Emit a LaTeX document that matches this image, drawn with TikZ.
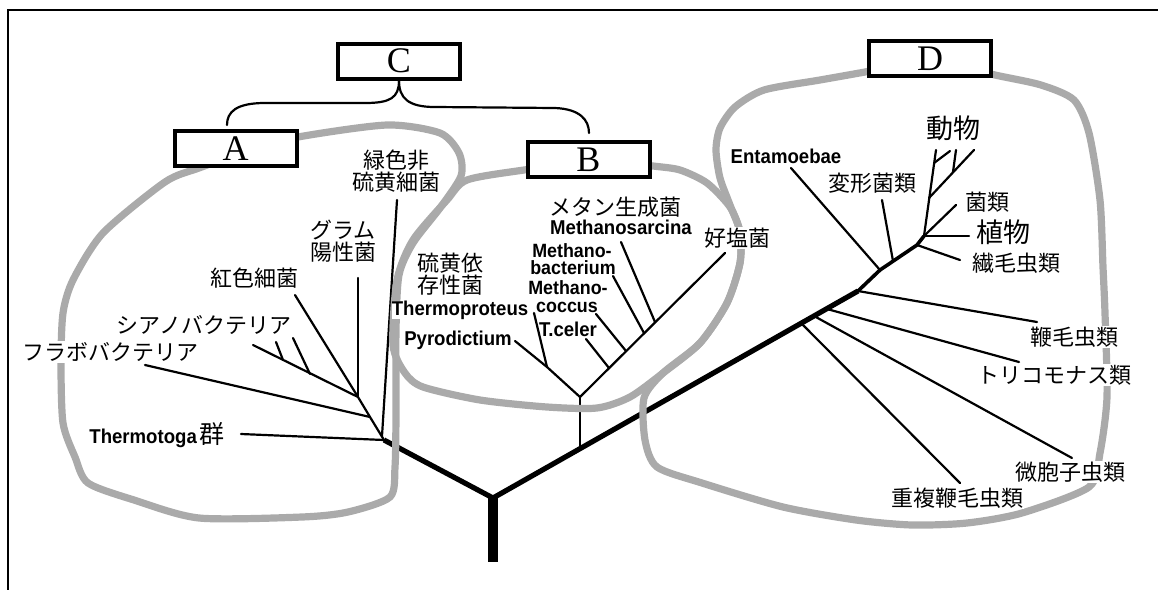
\documentclass[tikz,border=0pt]{standalone}
\usepackage{fontspec}
\setmainfont{Liberation Serif}
\newfontfamily\jp{Noto Sans CJK JP}
\newfontfamily\lat[FakeStretch=0.93]{Liberation Sans}
\definecolor{rg}{RGB}{170,170,170}
\begin{document}
\begin{tikzpicture}[x=0.5pt,y=-0.5pt,
  br/.style={line width=1.1pt, line cap=round},
  outline/.style={draw=rg, line width=3.6pt, line join=round},
  jl/.style={font=\jp\fontsize{11}{11}\selectfont, inner sep=0.5pt, align=center},
  jb/.style={font=\jp\fontsize{13.5}{13.5}\selectfont, inner sep=0.5pt},
  ll/.style={font=\lat\bfseries\fontsize{10}{10}\selectfont, inner sep=0pt},
  ls/.style={font=\lat\bfseries\fontsize{9.6}{9.6}\selectfont, inner sep=0pt},
  ko/.style={fill=white},
  lbox/.style={draw, line width=2pt, fill=white, minimum width=61pt, minimum height=17.5pt, inner sep=0pt, font=\fontsize{18}{18}\selectfont}
]
\useasboundingbox (0,0) rectangle (1158,590);
% frame
\draw[line width=1.2pt] (1158,10) -- (8,10) -- (8,590);

% ---------- coordinates ----------
\coordinate (root) at (493,498);
\coordinate (trunkbot) at (493,562);
\coordinate (aBase) at (384,440);
\coordinate (mR1) at (858,291);
\coordinate (mR2) at (880,270);
\coordinate (mR3) at (917,245);
\coordinate (mR4) at (924,236);
% A
\coordinate (aTop) at (295,295);
\coordinate (aFl) at (370,417);
\coordinate (aGr) at (358,397);
\coordinate (eTh) at (241,434);
\coordinate (sGreen) at (382,436);
\coordinate (eGreen) at (397,200);
\coordinate (eFl) at (145,365);
\coordinate (eGram) at (358,278);
\coordinate (eCy) at (253,345);
\coordinate (cy1a) at (283,360);
\coordinate (cy1b) at (276,342);
\coordinate (cy2a) at (310,374);
\coordinate (cy2b) at (293,338);
% B
\coordinate (bRoot) at (580,449);
\coordinate (bJ) at (580,397);
\coordinate (bL1) at (547,367);
\coordinate (ePyro) at (515,341);
\coordinate (eThp) at (534,313);
\coordinate (eHalo) at (725,253);
\coordinate (bTc) at (609,368);
\coordinate (eTc) at (586,339);
\coordinate (bMc) at (626,351);
\coordinate (eMc) at (596,314);
\coordinate (bMb) at (644,333);
\coordinate (eMb) at (613,276);
\coordinate (bMs) at (655,322);
\coordinate (eMs) at (621,242);
% D
\coordinate (eEnt) at (791,168);
\coordinate (bHen) at (893,261);
\coordinate (eHen) at (882,200);
\coordinate (eSen) at (960,260);
\coordinate (ePl) at (969,236);
\coordinate (eKin) at (956,205);
\coordinate (eAn) at (936,150);
\coordinate (an1a) at (934,163);
\coordinate (an1b) at (950,151);
\coordinate (an2a) at (929,198);
\coordinate (an2b) at (974,150);
\coordinate (an3a) at (953,172);
\coordinate (an3b) at (956,150);
\coordinate (eBen) at (1037,322);
\coordinate (bTri) at (827,309);
\coordinate (eTri) at (1019,362);
\coordinate (bMic) at (814,316);
\coordinate (eMic) at (1072,458);
\coordinate (bDup) at (801,323);
\coordinate (eDup) at (960,483);

% ---------- tree ----------
\draw[line width=4.6pt] (root) -- (trunkbot);
\draw[line width=2.6pt, line join=miter] (aBase) -- (root) -- (mR1);
\draw[line width=1.8pt, line join=round] (mR1) -- (mR2) -- (mR3) -- (mR4);
% A
\draw[br] (aBase) -- (aFl) -- (aGr) -- (aTop);
\draw[br] (aBase) -- (eTh);
\draw[br] (sGreen) -- (eGreen);
\draw[br] (aFl) -- (eFl);
\draw[br] (aGr) -- (eGram);
\draw[br] (aGr) -- (eCy);
\draw[br] (cy1a) -- (cy1b);
\draw[br] (cy2a) -- (cy2b);
% B
\draw[br] (bRoot) -- (bJ);
\draw[br] (bJ) -- (bL1) -- (ePyro);
\draw[br] (bL1) -- (eThp);
\draw[br] (bJ) -- (eHalo);
\draw[br] (bTc) -- (eTc);
\draw[br] (bMc) -- (eMc);
\draw[br] (bMb) -- (eMb);
\draw[br] (bMs) -- (eMs);
% D
\draw[br] (mR2) -- (eEnt);
\draw[br] (bHen) -- (eHen);
\draw[br] (mR3) -- (eSen);
\draw[br] (mR4) -- (ePl);
\draw[br] (mR4) -- (eKin);
\draw[br] (mR4) -- (eAn);
\draw[br] (an1a) -- (an1b);
\draw[br] (an2a) -- (an2b);
\draw[br] (an3a) -- (an3b);
\draw[br] (mR1) -- (eBen);
\draw[br] (bTri) -- (eTri);
\draw[br] (bMic) -- (eMic);
\draw[br] (bDup) -- (eDup);

% ---------- gray outlines ----------
\draw[outline] plot[smooth cycle, tension=0.45] coordinates {
 (250,150) (298,137) (387,125) (440,133) (459,153) (461,176) (440,208) (413,243)
 (399,275) (396,330) (396,413) (395,467) (390,497) (348,512) (302,517) (199,518)
 (134,500) (88,483) (75,457) (63,423) (61,363) (63,313) (73,280) (103,233)
 (165,182) (199,168)};
\draw[outline] plot[smooth cycle, tension=0.45] coordinates {
 (600,160) (653,166) (680,170) (707,183) (730,207) (740,232) (740,263) (727,303)
 (700,343) (663,373) (630,397) (597,408) (547,407) (480,400) (423,387) (405,373)
 (393,345) (397,280) (413,240) (447,200) (467,180) (524,170)};
\draw[outline] plot[smooth cycle, tension=0.45] coordinates {
 (930,60) (995,75) (1041,85) (1074,100) (1089,133) (1100,200) (1103,267) (1105,313)
 (1107,397) (1100,453) (1089,487) (1022,513) (967,523) (912,525) (856,520) (783,507)
 (702,483) (657,467) (645,440) (644,398) (663,373) (700,343) (727,303) (740,263)
 (740,232) (730,205) (720,178) (716,150) (720,128) (735,107) (764,90) (820,80) (865,72)};

% ---------- labels ----------
\node[jl] (lGreen) at (396,171) {緑色非\\硫黄細菌};
\node[jl] (lGram) at (343,241) {グラム\\陽性菌};
\node[jl] (lRed) at (254,278) {紅色細菌};
\node[jl] (lCy) at (204,325) {シアノバクテリア};
\node[jl, ko] (lFl) at (111,352) {フラボバクテリア};
\node[ll, anchor=west] (lTh) at (89,435) {Thermotoga\kern1.5pt{\jp\mdseries\fontsize{12.5}{12.5}\selectfont 群}};
\node[jl] (lSul) at (450,274) {硫黄依\\存性菌};
\node[ll, ko] (lThp) at (460,310) {Thermoproteus};
\node[ll] (lPyro) at (458,340) {Pyrodictium};
\node[ls] (lMb1) at (572,251) {Methano-};
\node[ls] (lMb2) at (573,268) {bacterium};
\node[ls] (lMc1) at (568,288) {Methano-};
\node[ls] (lMc2) at (567,307) {coccus};
\node[ll] (lTc) at (568,329) {T.celer};
\node[jl] (lMeth) at (615,207) {メタン生成菌};
\node[ll] (lMs) at (621,227) {Methanosarcina};
\node[jl, ko] (lHalo) at (737,238) {好塩菌};
\node[ll] (lEnt) at (786,156) {Entamoebae};
\node[jb] (lAn) at (953,128) {動物};
\node[jl] (lHen) at (872,183) {変形菌類};
\node[jl] (lKin) at (987,202) {菌類};
\node[jb] (lPl) at (1003,232) {植物};
\node[jl] (lSen) at (1016,263) {繊毛虫類};
\node[jl, ko] (lBen) at (1074,337) {鞭毛虫類};
\node[jl, ko] (lTri) at (1054,375) {トリコモナス類};
\node[jl, ko] (lMic) at (1070,472) {微胞子虫類};
\node[jl, ko] (lDup) at (957,498) {重複鞭毛虫類};

% ---------- boxes ----------
\node[lbox] (C) at (399,61) {C};
\node[lbox] (A) at (235.5,148.5) {A};
\node[lbox] (B) at (588.5,159.5) {B};
\node[lbox] (D) at (930,58.5) {D};

% brace
\coordinate (bcL) at (227,125);
\coordinate (bcR) at (589,133);
\draw[br] (C.south) .. controls (399,98) and (390,103) .. (365,103) -- (265,103) .. controls (236,103) and (227,112) .. (bcL);
\draw[br] (C.south) .. controls (399,98) and (408,107) .. (435,107) -- (555,108) .. controls (580,109) and (589,120) .. (bcR);
\end{tikzpicture}
\end{document}
